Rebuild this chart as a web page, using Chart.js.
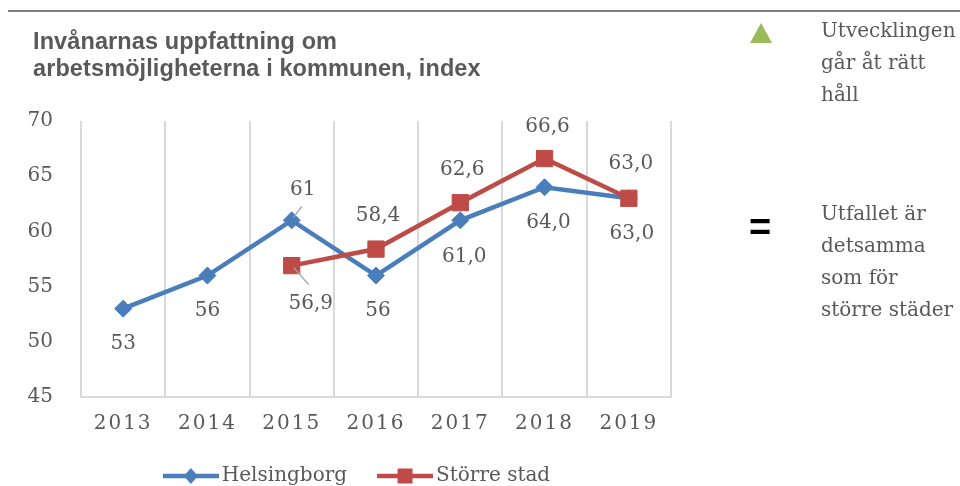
<!DOCTYPE html>
<html><head><meta charset="utf-8">
<script src="https://cdn.jsdelivr.net/npm/chart.js@4/dist/chart.umd.min.js"></script>
<style>
html,body{margin:0;padding:0;background:#fff;}
#wrap{position:relative;width:960px;height:486px;overflow:hidden;background:#fff;}
#c{position:absolute;left:0;top:0;}
.rule{position:absolute;left:8px;top:10px;width:952px;height:2px;background:#7f7f7f;}
.title{position:absolute;left:33px;top:28px;font:bold 23.5px "Liberation Sans",Arial,sans-serif;color:#595959;line-height:27px;white-space:nowrap;letter-spacing:0.1px;}
.note{position:absolute;left:821px;font:20px "DejaVu Serif",serif;color:#595959;line-height:32px;white-space:nowrap;}
.tri{position:absolute;left:750px;top:23px;width:0;height:0;border-left:11.5px solid transparent;border-right:11.5px solid transparent;border-bottom:20px solid #9BBB59;}
.eq{position:absolute;left:749px;top:207px;font:bold 38px "Liberation Sans",Arial,sans-serif;color:#000;line-height:40px;}
</style></head>
<body>
<div id="wrap">
<canvas id="c" width="960" height="486"></canvas>
<div class="rule"></div>
<div class="title">Invånarnas uppfattning om<br>arbetsmöjligheterna i kommunen, index</div>
<div class="tri"></div>
<div class="note" style="top:14px">Utvecklingen<br>går åt rätt<br>håll</div>
<div class="eq">=</div>
<div class="note" style="top:197px">Utfallet är<br>detsamma<br>som för<br>större städer</div>
</div>
<script>
const years = ['2013','2014','2015','2016','2017','2018','2019'];
const helsingborg = [53, 56, 61, 56, 61, 64, 63];
const helsingborgDecimals = [0, 0, 0, 0, 1, 1, 1];
const storreStad = [null, null, 56.9, 58.4, 62.6, 66.6, 63.0];
const storreStadDecimals = [1, 1, 1, 1, 1, 1, 1];
const yMin = 45, yMax = 70, yStep = 5;

const BLUE = '#4A7EBB', RED = '#BE4B48', TXT = '#595959', GRID = '#d9d9d9';
const SERIF = '"DejaVu Serif", serif';

// label placement (style, not data)
const labelPlacement = [
  [{dx:0,dy:35},{dx:0,dy:35},{dx:11,dy:-31,leader:[10,-14,2,-3]},{dx:2,dy:35},{dx:4,dy:36},{dx:4,dy:36},{dx:3,dy:36}],
  [null,null,{dx:19,dy:38,leader:[2,2,17,19]},{dx:2,dy:-33},{dx:2,dy:-33},{dx:3,dy:-32},{dx:2,dy:-34}]
];
const decimalsByDataset = [helsingborgDecimals, storreStadDecimals];

function fmt(v, d){ return v.toFixed(d).replace('.', ','); }

const dataLabelPlugin = {
  id:'dataLabels',
  afterDatasetsDraw(chart){
    const ctx = chart.ctx;
    ctx.save();
    ctx.font = '20px ' + SERIF;
    ctx.fillStyle = TXT;
    ctx.textAlign = 'center';
    ctx.textBaseline = 'middle';
    chart.data.datasets.forEach((ds, di) => {
      const meta = chart.getDatasetMeta(di);
      meta.data.forEach((pt, i) => {
        const v = ds.data[i];
        const pl = labelPlacement[di][i];
        if (v == null || !pl) return;
        if (pl.leader){
          ctx.save();
          ctx.strokeStyle = '#a6a6a6';
          ctx.lineWidth = 1.5;
          ctx.beginPath();
          ctx.moveTo(pt.x + pl.leader[0], pt.y + pl.leader[1]);
          ctx.lineTo(pt.x + pl.leader[2], pt.y + pl.leader[3]);
          ctx.stroke();
          ctx.restore();
        }
        ctx.fillText(fmt(v, decimalsByDataset[di][i]), pt.x + pl.dx, pt.y + pl.dy);
      });
    });
    ctx.restore();
  }
};

// shift legend box to its place below the plot
const legendShift = {
  id:'legendShift',
  afterLayout(chart){
    const L = chart.legend;
    if (!L) return;
    L.left += 11; L.right += 11;
    L.top += 10; L.bottom += 10;
  }
};

// letter-spaced category labels
const origDrawLabels = Chart.Scale.prototype.drawLabels;
Chart.CategoryScale.prototype.drawLabels = function(area){
  const ctx = this.ctx;
  const prev = ctx.letterSpacing;
  ctx.letterSpacing = '2px';
  origDrawLabels.call(this, area);
  ctx.letterSpacing = prev || '0px';
};

// legend icon: line with marker, visible part right-aligned in a wider image
function legendIcon(color, shape){
  const W = 83, vis = 56, x0 = W - vis;
  const c = document.createElement('canvas');
  c.width = W; c.height = 24;
  const g = c.getContext('2d');
  g.strokeStyle = color; g.lineWidth = 4.5;
  g.beginPath(); g.moveTo(x0,12); g.lineTo(W,12); g.stroke();
  g.fillStyle = color;
  g.beginPath();
  const cx = x0 + 28;
  if (shape === 'diamond'){
    g.moveTo(cx,4); g.lineTo(cx+7,12); g.lineTo(cx,20); g.lineTo(cx-7,12); g.closePath();
  } else {
    g.rect(cx-7.5,4.5,15,15);
  }
  g.fill();
  return c;
}
const icons = [legendIcon(BLUE,'diamond'), legendIcon(RED,'square')];

new Chart(document.getElementById('c'), {
  type:'line',
  data:{
    labels: years,
    datasets:[
      {label:'Helsingborg', data:helsingborg, borderColor:BLUE, backgroundColor:BLUE,
       borderWidth:4.5, pointStyle:'rectRot', pointRadius:8.5, pointBackgroundColor:BLUE,
       pointBorderColor:BLUE, pointBorderWidth:1, tension:0, order:1},
      {label:'Större stad', data:storreStad, borderColor:RED, backgroundColor:RED,
       borderWidth:4.5, pointStyle:'rect', pointRadius:11.5, pointBackgroundColor:RED,
       pointBorderColor:RED, pointBorderWidth:1, tension:0, order:0}
    ]
  },
  options:{
    responsive:false, animation:false,
    layout:{padding:{top:121, left:0, right:289, bottom:0}},
    scales:{
      x:{offset:true,
         grid:{offset:true, color:GRID, lineWidth:2, drawTicks:false},
         border:{color:GRID, width:2},
         ticks:{font:{family:SERIF,size:20}, color:TXT, padding:15, maxRotation:0},
         afterFit(s){ s.height = 49; }},
      y:{min:yMin, max:yMax,
         grid:{display:false, drawTicks:false}, border:{display:false},
         ticks:{stepSize:yStep, font:{family:SERIF,size:20}, color:TXT, padding:28},
         afterFit(s){ s.width = 81; }}
    },
    plugins:{
      tooltip:{enabled:false},
      legend:{position:'bottom',
        labels:{font:{family:SERIF,size:20}, color:TXT, usePointStyle:true, pointStyleWidth:69, boxHeight:20, padding:10,
          sort:(a,b)=>a.datasetIndex-b.datasetIndex,
          generateLabels(chart){
            const items = Chart.defaults.plugins.legend.labels.generateLabels(chart);
            items.forEach(it => { it.pointStyle = icons[it.datasetIndex]; });
            return items;
          }}}
    }
  },
  plugins:[dataLabelPlugin, legendShift]
});
</script>
</body></html>
